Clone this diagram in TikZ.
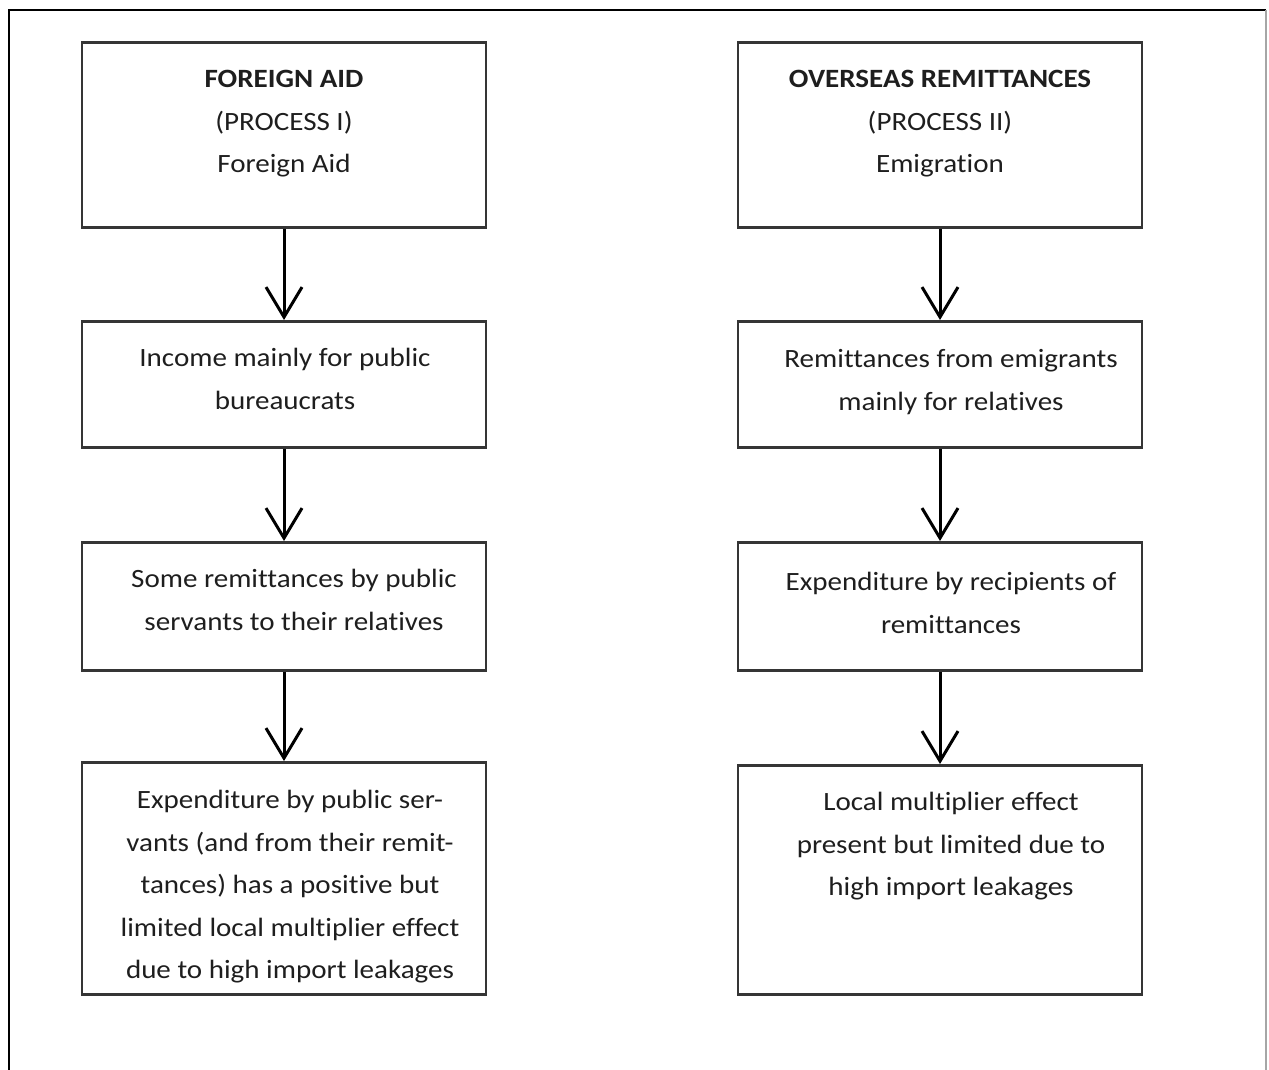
\documentclass[tikz,border=0pt]{standalone}
\usepackage{fontspec}
\setmainfont{Carlito}[FakeStretch=1.1,Ligatures=NoCommon]
\usetikzlibrary{arrows.meta}
\definecolor{ink}{HTML}{1E1E1E}
\begin{document}
\begin{tikzpicture}[x=0.5pt,y=-0.5pt,
  box/.style={draw=ink!90,line width=1.4pt,minimum width=202pt,inner sep=0pt},
  txt/.style={anchor=north,inner sep=0pt,align=center,text=ink,
    font=\fontsize{13.2}{21.25}\selectfont},
  flow/.style={line width=1.5pt,draw=black,
    -{Straight Barb[length=15pt,width=18pt,line width=1.5pt]}}]
\useasboundingbox (0,0) rectangle (1269,1070);
% page frame: open at the bottom
\draw[black,line width=1.2pt] (9,1070) -- (9,10) -- (1266,10);
\draw[gray!70,line width=0.7pt] (1266,10) -- (1266,1070);

% process I column
\node[box,minimum height=92.5pt,anchor=north] (a1) at (284,41) {};
\node[box,minimum height=63pt,anchor=north] (a2) at (284,320) {};
\node[box,minimum height=64pt,anchor=north] (a3) at (284,541) {};
\node[box,minimum height=116pt,anchor=north] (a4) at (284,761) {};
\node[txt] (ta1) at (284,70) {\textbf{FOREIGN AID}\\(PROCESS I)\\Foreign Aid};
\node[txt] (ta2) at (285,348) {Income mainly for public\\bureaucrats};
\node[txt] (ta3) at (294,569) {Some remittances by public\\servants to their relatives};
\node[txt] (ta4) at (290,790) {Expenditure by public ser-\\vants (and from their remit-\\tances) has a positive but\\limited local multiplier effect\\due to high import leakages};

% process II column
\node[box,minimum height=92.5pt,anchor=north] (b1) at (940,41) {};
\node[box,minimum height=63pt,anchor=north] (b2) at (940,320) {};
\node[box,minimum height=64pt,anchor=north] (b3) at (940,541) {};
\node[box,minimum height=114.5pt,anchor=north] (b4) at (940,764) {};
\node[txt] (tb1) at (940,70) {\textbf{OVERSEAS REMITTANCES}\\(PROCESS II)\\Emigration};
\node[txt] (tb2) at (951,349) {Remittances from emigrants\\mainly for relatives};
\node[txt] (tb3) at (951,572) {Expenditure by recipients of\\remittances};
\node[txt] (tb4) at (951,792) {Local multiplier effect\\present but limited due to\\high import leakages};

% flow arrows
\draw[flow] (a1.south) -- (a2.north);
\draw[flow] (a2.south) -- (a3.north);
\draw[flow] (a3.south) -- (a4.north);
\draw[flow] (b1.south) -- (b2.north);
\draw[flow] (b2.south) -- (b3.north);
\draw[flow] (b3.south) -- (b4.north);
\end{tikzpicture}
\end{document}
